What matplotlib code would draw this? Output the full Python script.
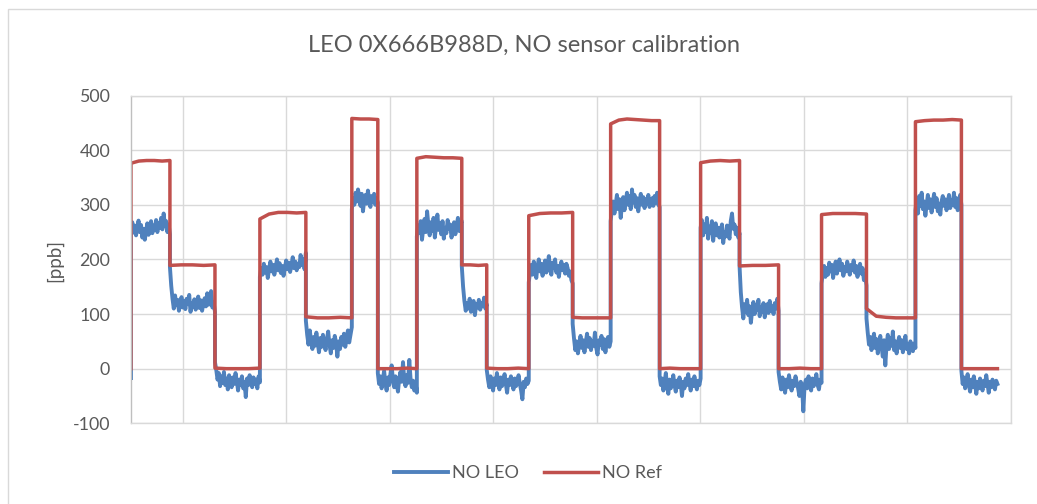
import numpy as np
import matplotlib
matplotlib.use("Agg")
import matplotlib.pyplot as plt
from matplotlib.patches import Rectangle

title = "LEO 0X666B988D, NO sensor calibration"
y_label = "[ppb]"
series_names = ["NO LEO", "NO Ref"]
y_ticks = [-100, 0, 100, 200, 300, 400, 500]

# times at which the reference concentration was switched
step_edges = [0.000, 0.376, 0.811, 1.245, 1.689, 2.133, 2.384, 2.761, 3.195, 3.436,
              3.842, 4.266, 4.633, 5.106, 5.502, 5.878, 6.255, 6.670, 7.104, 7.577,
              8.021, 8.369]

# NO LEO sensor readings [ppb], one list per concentration step
leo_start = [-3, -18]
leo_01 = [255, 268, 249, 262, 244, 258, 271, 250, 263, 240, 256, 236, 252, 266, 245, 259,
          270, 248, 262, 254, 272, 250, 266, 258, 276, 255, 284, 262, 270, 250, 264, 246]
leo_02 = [186, 152, 128, 110, 134, 116, 126, 106, 121, 131, 112, 124, 109, 128, 118, 135, 104, 120,
          113, 127, 108, 122, 132, 111, 125, 106, 119, 129, 114, 138, 117, 126, 142, 112, 121, 104]
leo_03 = [12, -2, -20, -8, -32, -14, -26, -6, -30, -18, -38, -12, -24, -34, -16, -28, -8, -22,
          -40, -20, -30, -14, -36, -24, -52, -18, -30, -12, -26, -34, -16, -28, -20, -36, -14, -25]
leo_04 = [168, 184, 172, 192, 176, 186, 166, 182, 196, 178, 190, 172, 185, 200, 180, 193, 175, 188,
          170, 184, 198, 182, 194, 177, 189, 204, 184, 196, 180, 192, 186, 208, 190, 200, 182, 212]
leo_05 = [88, 62, 44, 70, 50, 36, 58, 42, 66, 48, 30, 56, 40, 62, 46, 34, 54, 68,
          44, 28, 52, 38, 60, 48, 22, 50, 36, 58, 44, 64, 40, 54, 70, 48, 62, 76]
leo_06 = [292, 312, 300, 322, 306, 328, 314, 298, 320, 288, 308, 318, 302, 326, 310, 296,
          316, 306, 320, 300, 312, 304]
leo_07 = [-8, -28, -14, -36, -20, -4, -26, -40, -16, -30, -10, 6, -22, -34, -14, -28,
          -42, -18, -6, -24, 12, -20, -32, -12, -26, 16, -18, -34, -22, -40, -26, -44]
leo_08 = [242, 262, 248, 270, 236, 256, 274, 250, 288, 262, 244, 268, 252, 276, 240, 260, 282, 254,
          266, 246, 270, 238, 258, 248, 272, 256, 264, 240, 252, 268, 246, 262, 276, 252, 266, 270]
leo_09 = [188, 150, 124, 106, 120, 110, 128, 104, 116, 124, 98, 118, 112, 126, 108, 120, 114, 130, 110, 118]
leo_10 = [-2, -20, -34, -14, -28, -40, -18, -30, -8, -24, -38, -16, -32, -22, -10, -28, -44,
          -20, -30, -14, -26, -38, -18, -32, -24, -12, -28, -40, -56, -24, -34, -18, -28, -22]
leo_11 = [158, 176, 190, 172, 196, 180, 166, 188, 200, 178, 192, 170, 184, 198, 176, 190, 206, 182,
          172, 194, 184, 200, 176, 188, 168, 186, 196, 180, 190, 174, 192, 184, 170, 178, 162, 156]
leo_12 = [82, 56, 34, 50, 28, 44, 60, 38, 52, 30, 48, 64, 40, 56, 34,
          50, 42, 66, 38, 26, 52, 44, 60, 36, 54, 30, 48, 58, 40, 50]
leo_13 = [270, 292, 306, 284, 300, 318, 292, 310, 276, 298, 314, 290, 306, 322, 300, 316, 292, 328, 304, 318,
          296, 312, 288, 306, 320, 300, 314, 294, 310, 302, 318, 296, 308, 312, 298, 316, 304, 322, 300, 296]
leo_14 = [-14, -30, -18, -40, -24, -8, -32, -46, -20, -36, -26, -12, -30, -42, -22, -34, -16,
          -28, -50, -24, -36, -18, -30, -10, -26, -40, -20, -32, -14, -28, -38, -22, -30, -18]
leo_15 = [258, 272, 244, 264, 250, 276, 238, 260, 248, 270, 234, 256, 266, 244, 258, 240,
          252, 264, 230, 250, 242, 262, 248, 238, 270, 284, 256, 264, 246, 258, 240, 248]
leo_16 = [188, 140, 112, 92, 118, 104, 126, 98, 114, 84, 106, 122, 100, 116, 108, 126,
          96, 112, 104, 120, 94, 110, 118, 102, 124, 106, 114, 100, 120, 110, 128, 106]
leo_17 = [-6, -24, -38, -16, -30, -44, -20, -34, -12, -28, -40, -22, -32, -14, -26, -36, -50,
          -24, -30, -78, -30, -20, -36, -14, -28, -40, -18, -32, -24, -10, -30, -38, -20, -26]
leo_18 = [156, 176, 188, 168, 184, 172, 194, 178, 190, 166, 182, 196, 174, 188, 200, 180, 192, 170,
          186, 178, 196, 184, 172, 190, 180, 198, 176, 188, 168, 182, 192, 174, 184, 162, 170, 152]
leo_19 = [92, 66, 44, 58, 34, 50, 64, 38, 54, 28, 46, 60, 40, 22, 52, 6, 44, 62, 36, 56,
          42, 68, 34, 50, 28, 46, 58, 38, 52, 30, 48, 60, 36, 44, 28, 50, 40, 32, 46, 38]
leo_20 = [290, 310, 284, 316, 298, 322, 292, 306, 280, 300, 318, 294, 310, 286, 304, 320, 296, 312, 288,
          302, 282, 306, 316, 298, 310, 290, 304, 318, 294, 308, 300, 322, 296, 312, 290, 306, 318, 300]
leo_21 = [-4, -28, -16, -36, -22, -10, -30, -42, -20, -34, -14, -28, -46, -24, -36,
          -18, -30, -40, -22, -32, -12, -28, -44, -24, -34, -20, -30, -38, -22, -28]

# NO reference analyser readings [ppb], one list per concentration step
ref_start = [0]
ref_01 = [376, 380, 381, 381, 380, 381]
ref_02 = [189, 190, 190, 189, 190]
ref_03 = [1, 0, 0, 0, 1]
ref_04 = [274, 283, 286, 286, 285, 286]
ref_05 = [95, 93, 93, 94, 93]
ref_06 = [458, 457, 457, 456]
ref_07 = [0, 0, 0, 1, 0]
ref_08 = [385, 388, 387, 386, 386, 385]
ref_09 = [190, 190, 189, 190]
ref_10 = [1, 0, 0, 1, 0]
ref_11 = [280, 284, 285, 285, 286]
ref_12 = [94, 93, 93, 93, 93]
ref_13 = [448, 455, 457, 456, 455, 454, 454]
ref_14 = [0, 1, 0, 0, 0]
ref_15 = [377, 380, 381, 380, 381]
ref_16 = [188, 189, 189, 190]
ref_17 = [0, 0, 1, 0, 0]
ref_18 = [282, 284, 284, 284, 283]
ref_19 = [110, 96, 94, 93, 93, 93]
ref_20 = [452, 454, 455, 455, 456, 455]
ref_21 = [0, 0, 0, 0]

leo_steps = [leo_01, leo_02, leo_03, leo_04, leo_05, leo_06, leo_07, leo_08, leo_09, leo_10,
             leo_11, leo_12, leo_13, leo_14, leo_15, leo_16, leo_17, leo_18, leo_19, leo_20, leo_21]
ref_steps = [ref_01, ref_02, ref_03, ref_04, ref_05, ref_06, ref_07, ref_08, ref_09, ref_10,
             ref_11, ref_12, ref_13, ref_14, ref_15, ref_16, ref_17, ref_18, ref_19, ref_20, ref_21]


def trace(start_vals, steps):
    """Lay the readings of each step evenly over its time window."""
    xs = [step_edges[0]] * len(start_vals)
    ys = list(start_vals)
    for i, vals in enumerate(steps):
        xs.extend(np.linspace(step_edges[i], step_edges[i + 1], len(vals)))
        ys.extend(vals)
    return np.array(xs), np.array(ys)


TEXT = "#595959"
GRID = "#D9D9D9"
BLUE = "#4F81BD"
RED = "#C0504D"
FONT = "Lato"

W, H = 1037, 504
fig = plt.figure(figsize=(W / 100, H / 100), dpi=100)
fig.patch.set_facecolor("white")

# chart frame
fig.patches.append(Rectangle((8 / W, -0.1), 1.2, 1 - 9 / H + 0.1, transform=fig.transFigure,
                             fill=False, edgecolor=GRID, linewidth=1.0))

ax = fig.add_axes([131 / W, (H - 423.3) / H, 880 / W, 327.8 / H])

x_leo, y_leo = trace(leo_start, leo_steps)
x_ref, y_ref = trace(ref_start, ref_steps)
ax.plot(x_leo, y_leo, color=BLUE, linewidth=2.8, solid_joinstyle="round", label=series_names[0])
ax.plot(x_ref, y_ref, color=RED, linewidth=2.5, solid_joinstyle="round", label=series_names[1])

ax.set_xlim(0, 8.5)
ax.set_ylim(-100, 500)
ax.set_xticks(np.arange(0.5, 8.6, 1.0))
ax.set_yticks(y_ticks)
ax.set_yticklabels([str(t) for t in y_ticks], fontfamily=FONT, fontsize=12.8, color=TEXT)
ax.tick_params(axis="x", length=0, labelbottom=False)
ax.tick_params(axis="y", length=0, pad=15)
ax.grid(True, color=GRID, linewidth=1.0)
ax.set_axisbelow(True)
for sp in ax.spines.values():
    sp.set_color(GRID)
    sp.set_linewidth(1.0)
ax.spines["left"].set_color("#BFBFBF")

fig.text(55 / W, 1 - 260 / H, y_label, rotation=90, ha="center", va="center",
         fontfamily=FONT, fontsize=13.5, color=TEXT)
fig.text(524 / W, 1 - 45 / H, title, ha="center", va="center",
         fontfamily=FONT, fontsize=17, color=TEXT)

fig.legend(loc="center", bbox_to_anchor=(528 / W, 1 - 473 / H), ncol=2, frameon=False,
           prop={"family": FONT, "size": 13}, labelcolor=TEXT,
           handlelength=3.0, handletextpad=0.2, columnspacing=1.4)

fig.savefig("out.png", dpi=100, facecolor="white")
